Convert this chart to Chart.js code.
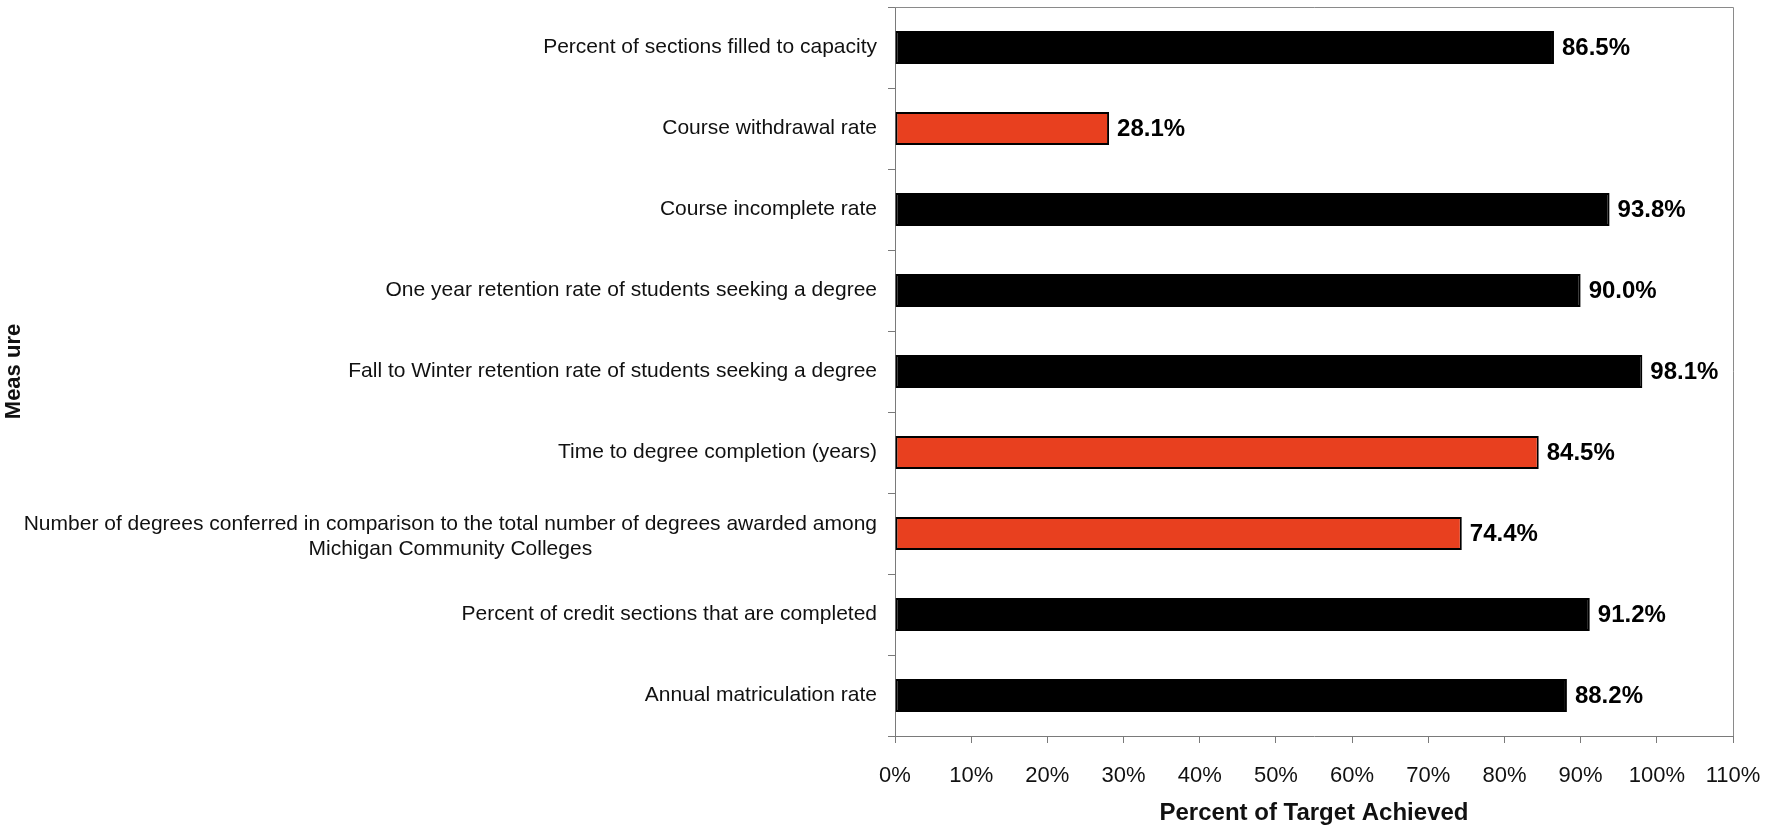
<!DOCTYPE html>
<html>
<head>
<meta charset="utf-8">
<script src="https://cdn.jsdelivr.net/npm/chart.js@4/dist/chart.umd.min.js"></script>
<style>
  html, body { margin: 0; padding: 0; background: #ffffff; }
  canvas { display: block; }
</style>
</head>
<body>
<canvas id="chart" width="1771" height="829"></canvas>
<script>
// Performance measures (each entry holds the lines of its axis label)
const measures = [
  ['Percent of sections filled to capacity'],
  ['Course withdrawal rate'],
  ['Course incomplete rate'],
  ['One year retention rate of students seeking a degree'],
  ['Fall to Winter retention rate of students seeking a degree'],
  ['Time to degree completion (years)'],
  ['Number of degrees conferred in comparison to the total number of degrees awarded among',
   'Michigan Community Colleges'],
  ['Percent of credit sections that are completed'],
  ['Annual matriculation rate']
];

// Percent of target achieved for each measure
const percentAchieved = [86.5, 28.1, 93.8, 90.0, 98.1, 84.5, 74.4, 91.2, 88.2];

// Measures flagged for attention
const flagged = [false, true, false, false, false, true, true, false, false];

// Horizontal axis range and step (percent)
const xAxisMin = 0;
const xAxisMax = 110;
const xAxisStep = 10;

const FONT = '"Liberation Sans", Arial, Helvetica, sans-serif';
const AXIS_GREY = '#7a7a7a';

const labelPlugin = {
  id: 'measureLabels',
  afterDraw(chart) {
    const ctx = chart.ctx;
    const area = chart.chartArea;
    const yScale = chart.scales.y;
    ctx.save();

    // frame along top and right of the plot area
    ctx.strokeStyle = '#8a8a8a';
    ctx.lineWidth = 1;
    ctx.beginPath();
    ctx.moveTo(area.left, area.top + 0.5);
    ctx.lineTo(area.right + 0.5, area.top + 0.5);
    ctx.lineTo(area.right + 0.5, area.bottom);
    ctx.stroke();

    // measure names, block right-aligned, lines centred within the block
    ctx.font = '21px ' + FONT;
    ctx.fillStyle = '#111111';
    ctx.textAlign = 'center';
    ctx.textBaseline = 'middle';
    const rightEdge = area.left - 18;
    const lineGap = 25;
    measures.forEach((lines, i) => {
      const cy = yScale.getPixelForValue(i) + (lines.length > 1 ? 3 : 0);
      const w = Math.max(...lines.map(t => ctx.measureText(t).width));
      const cx = rightEdge - w / 2;
      lines.forEach((t, k) => {
        ctx.fillText(t, cx, cy + (k - (lines.length - 1) / 2) * lineGap);
      });
    });

    // value labels at the end of each bar
    ctx.font = 'bold 24px ' + FONT;
    ctx.textAlign = 'left';
    ctx.fillStyle = '#000000';
    const meta = chart.getDatasetMeta(0);
    meta.data.forEach((bar, i) => {
      ctx.fillText(percentAchieved[i].toFixed(1) + '%', bar.x + 8, bar.y + 1);
    });

    ctx.restore();
  }
};

new Chart(document.getElementById('chart'), {
  type: 'bar',
  data: {
    labels: measures,
    datasets: [{
      data: percentAchieved,
      backgroundColor: flagged.map(f => f ? '#e8401f' : '#000000'),
      borderColor: '#000000',
      borderWidth: 2,
      borderSkipped: false,
      barPercentage: 0.41,
      categoryPercentage: 1.0
    }]
  },
  options: {
    indexAxis: 'y',
    responsive: false,
    devicePixelRatio: 1,
    animation: false,
    layout: { padding: { top: 7, right: 38, bottom: 0, left: 0 } },
    plugins: {
      legend: { display: false },
      tooltip: { enabled: false }
    },
    scales: {
      x: {
        min: xAxisMin,
        max: xAxisMax,
        afterFit(scale) {
          scale.height = 93;
          scale.paddingLeft = 0;
          scale.paddingRight = 0;
        },
        border: { display: true, color: AXIS_GREY, width: 1 },
        grid: {
          drawOnChartArea: false,
          drawTicks: true,
          tickLength: 7,
          color: AXIS_GREY
        },
        ticks: {
          stepSize: xAxisStep,
          padding: 20,
          color: '#111111',
          font: { family: FONT, size: 22 },
          maxRotation: 0,
          callback: v => v + '%'
        },
        title: {
          display: true,
          text: 'Percent of Target Achieved',
          color: '#111111',
          font: { family: FONT, size: 24, weight: 'bold' },
          padding: { top: 0, bottom: 1 }
        }
      },
      y: {
        afterFit(scale) {
          scale.width = 895;
          scale.paddingTop = 0;
          scale.paddingBottom = 0;
        },
        border: { display: true, color: AXIS_GREY, width: 1 },
        grid: {
          offset: true,
          drawOnChartArea: false,
          drawTicks: true,
          tickLength: 7,
          color: AXIS_GREY
        },
        ticks: { display: false },
        title: {
          display: true,
          text: 'Meas ure',
          color: '#111111',
          font: { family: FONT, size: 22, weight: 'bold' },
          padding: { top: 1, bottom: 0 }
        }
      }
    }
  },
  plugins: [labelPlugin]
});
</script>
</body>
</html>
